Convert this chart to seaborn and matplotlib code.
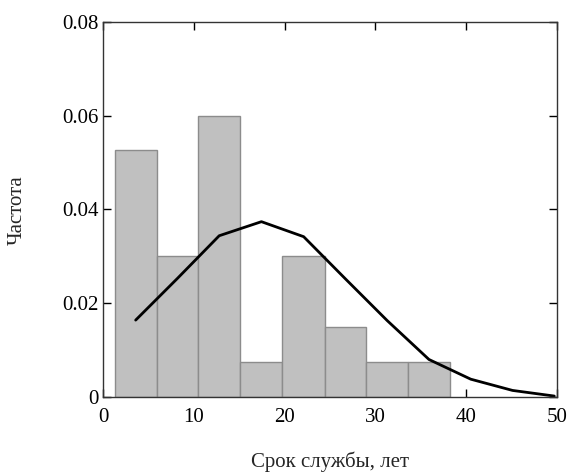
import matplotlib
matplotlib.use("Agg")
import matplotlib.pyplot as plt
import seaborn as sns

# histogram bins (years) and relative frequency heights
bin_edges = [1.3, 5.9, 10.5, 15.1, 19.75, 24.4, 29.0, 33.6, 38.2]
bin_heights = [0.0526, 0.030, 0.060, 0.0075, 0.030, 0.0149, 0.0075, 0.0075]

# fitted density curve
curve_x = [3.6, 8.2, 12.8, 17.45, 22.1, 26.7, 31.3, 35.9, 40.5, 45.1, 49.7]
curve_y = [0.0164, 0.0253, 0.0344, 0.0374, 0.0342, 0.0252, 0.0163, 0.0080, 0.0038, 0.0014, 0.0002]

x_ticks = [0, 10, 20, 30, 40, 50]
y_ticks = [0, 0.02, 0.04, 0.06, 0.08]
y_tick_labels = ["0", "0.02", "0.04", "0.06", "0.08"]

sns.set_style("ticks")
plt.rcParams["font.family"] = ["Liberation Serif", "DejaVu Serif"]

fig = plt.figure(figsize=(5.74, 4.73), dpi=100)
ax = fig.add_axes([0.1794, 0.1607, 0.791, 0.7928])

centers = [(a + b) / 2 for a, b in zip(bin_edges[:-1], bin_edges[1:])]
sns.histplot(x=centers, weights=bin_heights, bins=bin_edges, stat="count",
             color="#c0c0c0", edgecolor="#8c8c8c", linewidth=1.0, alpha=1.0, ax=ax)
sns.lineplot(x=curve_x, y=curve_y, color="black", linewidth=2.0, ax=ax)

ax.set_xlim(0, 50)
ax.set_ylim(0, 0.08)
ax.set_xticks(x_ticks)
ax.set_xticklabels([str(t) for t in x_ticks])
ax.set_yticks(y_ticks)
ax.set_yticklabels(y_tick_labels)
ax.tick_params(direction="in", length=6, width=1, top=True, right=True,
               labelsize=15, colors="black")
ax.tick_params(axis="x", pad=8)
ax.tick_params(axis="y", pad=3)
for s in ax.spines.values():
    s.set_color("#333333")
    s.set_linewidth(1.0)

ax.set_xlabel("")
ax.set_ylabel("")
fig.text(0.575, 0.023, "Срок службы, лет", ha="center", va="center", fontsize=15)
fig.text(0.03, 0.556, "Частота", ha="center", va="center", rotation=90, fontsize=15)

fig.savefig("out.png", dpi=100)
